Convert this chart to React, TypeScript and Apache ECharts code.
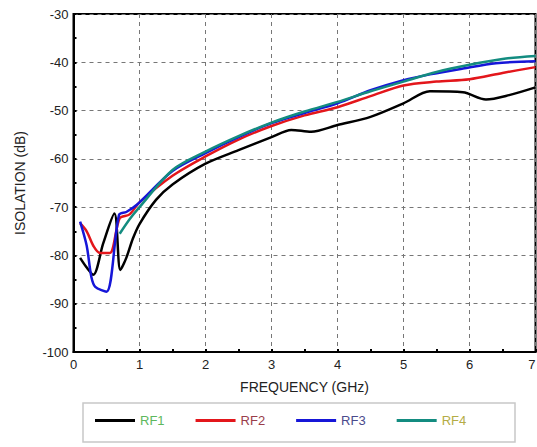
import React, { useEffect, useRef } from "react";
import * as echarts from "echarts";

const seriesNames = ["RF1", "RF2", "RF3", "RF4"];
const lineColors = ["#000000", "#e3161b", "#1616d8", "#138c80"];
const legendTextColors = ["#5db85d", "#9a3d4a", "#4a4a8c", "#b4ac46"];

const rf1: [number, number][] = [
  [0.1, -80.5], [0.2, -82.5], [0.3, -84], [0.45, -77.5], [0.62, -71.3], [0.71, -83],
  [0.8, -80.5], [0.9, -76.5], [1.0, -73.5], [1.25, -68.5], [1.5, -65.3], [2, -61],
  [2.5, -58.2], [3, -55.5], [3.3, -54], [3.6, -54.4], [4, -53], [4.5, -51.3],
  [5, -48.5], [5.4, -46], [5.9, -46.2], [6.25, -47.7], [6.6, -46.8], [7, -45.2],
];
const rf2: [number, number][] = [
  [0.1, -73.3], [0.2, -75], [0.3, -78], [0.4, -79.5], [0.55, -79.5], [0.7, -72.3],
  [0.85, -71.5], [1, -69], [1.5, -63.5], [2, -59.5], [2.5, -56], [3, -53.2],
  [3.5, -51], [4, -49.3], [4.5, -47], [5, -44.8], [5.5, -44], [6, -43.5],
  [6.5, -42.2], [7, -41],
];
const rf3: [number, number][] = [
  [0.1, -73], [0.2, -78], [0.27, -84.4], [0.33, -86.5], [0.5, -87.5], [0.69, -71.6],
  [0.8, -71], [0.96, -69.5], [1.5, -62.5], [2, -58.8], [2.5, -55.5], [3, -52.6],
  [3.5, -50.5], [4, -48.5], [4.5, -45.8], [5, -43.7], [5.4, -42.5], [5.9, -41.3],
  [6.4, -40.2], [7, -39.8],
];
const rf4: [number, number][] = [
  [0.7, -75.5], [0.85, -72.5], [1, -70], [1.5, -62.3], [2, -58.5], [2.5, -55.3],
  [3, -52.5], [3.5, -50.2], [4, -48.2], [4.5, -46], [5, -44], [5.5, -42],
  [6, -40.5], [6.5, -39.3], [7, -38.7],
];
const allData = [rf1, rf2, rf3, rf4];

export default function App() {
  const ref = useRef<HTMLDivElement>(null);
  useEffect(() => {
    document.body.style.margin = "0";
    const chart = echarts.init(ref.current!, undefined, { renderer: "svg" });
    const font = "Liberation Sans, Arial, sans-serif";
    chart.setOption({
      animation: false,
      backgroundColor: "#ffffff",
      textStyle: { fontFamily: font },
      grid: {
        left: 73.5, right: 1.5, top: 14, bottom: 95,
        show: true, borderColor: "#000", borderWidth: 2,
        containLabel: false, outerBoundsMode: "none",
      },
      graphic: [
        {
          type: "rect",
          shape: { x: 83, y: 403, width: 432, height: 39 },
          style: { fill: "#fff", stroke: "#c8c8c8", lineWidth: 1.5 },
          z: 0,
        },
      ],
      legend: {
        left: 95, top: 414, itemGap: 31, itemWidth: 40, itemHeight: 3,
        icon: "rect", padding: 0,
        data: seriesNames.map((n, i) => ({
          name: n,
          textStyle: { color: legendTextColors[i], fontSize: 13, fontFamily: font },
        })),
      },
      xAxis: {
        type: "value", min: 0, max: 7, interval: 1,
        name: "FREQUENCY (GHz)", nameLocation: "middle", nameGap: 28,
        nameTextStyle: { color: "#222", fontSize: 14, fontFamily: font },
        axisLine: { show: true, lineStyle: { color: "#000", width: 2 } },
        axisTick: { show: true, inside: true, length: 3, lineStyle: { color: "#000", width: 2 } },
        minorTick: { show: true, splitNumber: 2, length: 3, lineStyle: { color: "#000", width: 2 } },
        axisLabel: { color: "#222", fontSize: 13, margin: 6, fontFamily: font, alignMaxLabel: "right" },
        splitLine: { show: true, lineStyle: { color: "#777", type: [4, 4], width: 1 } },
      },
      yAxis: {
        type: "value", min: -100, max: -30, interval: 10,
        name: "ISOLATION (dB)", nameLocation: "middle", nameGap: 47,
        nameTextStyle: { color: "#222", fontSize: 14, fontFamily: font },
        axisLine: { show: true, lineStyle: { color: "#000", width: 2 } },
        axisTick: { show: true, inside: true, length: 3, lineStyle: { color: "#000", width: 2 } },
        minorTick: { show: true, splitNumber: 2, length: 3, lineStyle: { color: "#000", width: 2 } },
        axisLabel: { color: "#222", fontSize: 13, margin: 5, fontFamily: font },
        splitLine: { show: true, lineStyle: { color: "#777", type: [4, 4], width: 1 } },
      },
      series: seriesNames.map((n, i) => ({
        name: n,
        type: "line",
        data: allData[i],
        symbol: "none",
        smooth: 0.3,
        lineStyle: { color: lineColors[i], width: 2.5 },
        itemStyle: { color: lineColors[i] },
      })),
    });
    return () => chart.dispose();
  }, []);
  return <div ref={ref} style={{ width: 537, height: 447 }} />;
}
